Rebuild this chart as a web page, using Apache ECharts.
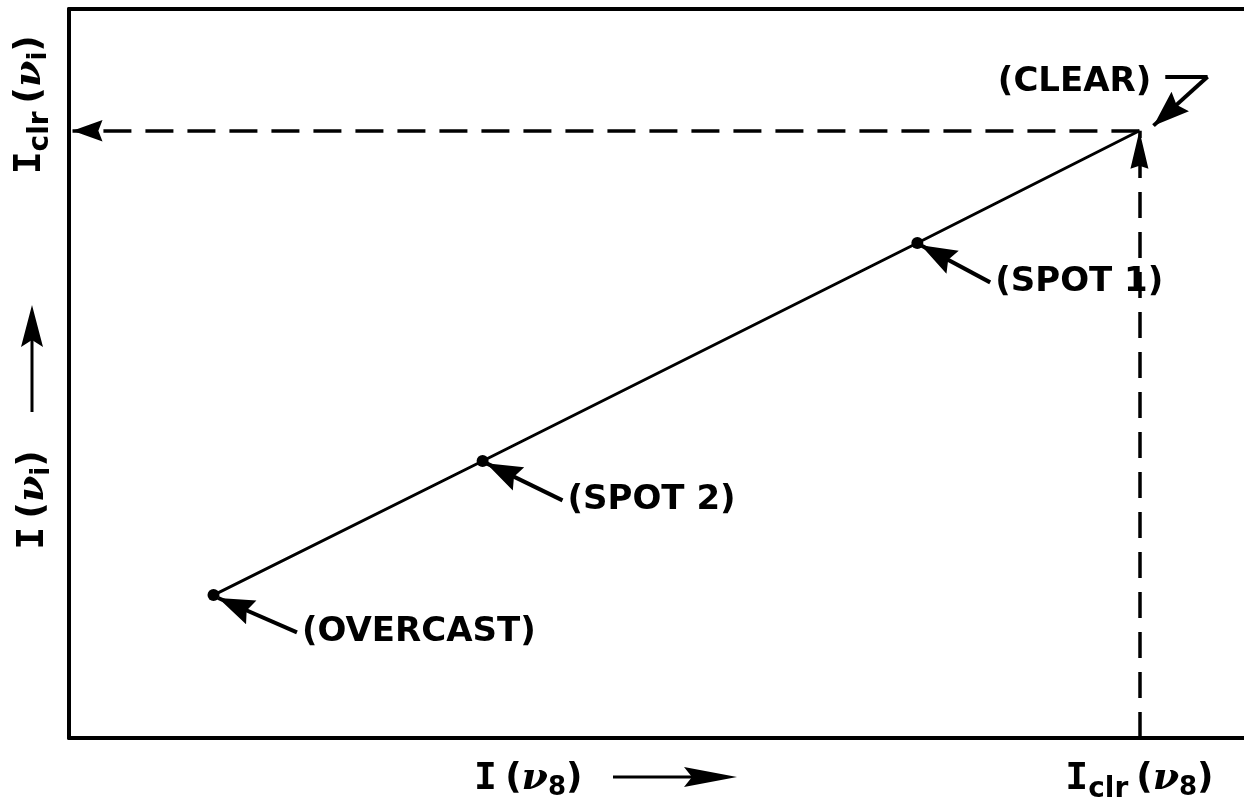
<!DOCTYPE html>
<html>
<head>
<meta charset="utf-8">
<script src="https://cdn.jsdelivr.net/npm/echarts@6/dist/echarts.min.js"></script>
<style>
  html, body { margin: 0; padding: 0; background: #fff; }
  #chart { width: 1244px; height: 810px; }
</style>
</head>
<body>
<div id="chart"></div>
<script>
// 状态点:I(ν8) 横轴, I(νi) 纵轴(任意单位 0..100)
var stateNames = ['OVERCAST', 'SPOT 2', 'SPOT 1', 'CLEAR'];
var i8Values = [12.3, 35.2, 72.2, 91.1];
var iiValues = [19.6, 38.0, 67.9, 83.3];

// 注释箭头:尾部(文字处) -> 头部(点旁)
var noteTailX = [19.4, 42.0, 78.4];
var noteTailY = [14.5, 32.6, 62.5];
var noteTipX = [12.7, 35.5, 72.5];
var noteTipY = [19.2, 37.7, 67.6];
// (CLEAR) 的折线箭头
var clearArrowX = [93.3, 96.9, 92.3];
var clearArrowY = [90.7, 90.7, 84.0];

var xTickValues = [91.1];
var yTickValues = [83.3];

(function () {
  'use strict';
  var chart = echarts.init(document.getElementById('chart'));
  var INK = '#000';

  // 尖端在包围盒中心,便于箭头恰好落在端点
  var headSmall = 'path://M0,18 L13,54 L0,49 L-13,54 Z M-36,-18 M36,54';
  var headTall = 'path://M0,19 L9,57 L0,54 L-9,57 Z M-38,-19 M38,57';

  var clr = xTickValues[0], cly = yTickValues[0];

  var subRich = {
    I: { fontFamily: 'DejaVu Sans Mono', fontWeight: 'bold', fontSize: 38, color: INK },
    sp: { fontFamily: 'DejaVu Sans', fontSize: 26, color: INK },
    s: { fontFamily: 'DejaVu Sans', fontWeight: 'bold', fontSize: 28, color: INK, padding: [22, 2, 0, 0] },
    p: { fontFamily: 'DejaVu Sans', fontWeight: 'bold', fontSize: 36, color: INK, padding: [0, 0, 0, 6] },
    q: { fontFamily: 'DejaVu Sans', fontWeight: 'bold', fontSize: 36, color: INK },
    nu: { fontFamily: 'DejaVu Serif', fontStyle: 'italic', fontWeight: 'bold', fontSize: 38, color: INK },
    n: { fontFamily: 'DejaVu Sans', fontWeight: 'bold', fontSize: 26, color: INK, padding: [18, 0, 0, 0] }
  };

  var notes = stateNames.slice(0, 3).map(function (n, k) {
    return { name: '(' + n + ')', value: [noteTailX[k], noteTailY[k]] };
  });
  notes.push({ name: '(CLEAR)', value: [clearArrowX[0], clearArrowY[0]],
               label: { position: 'left', distance: 14, offset: [0, 5] } });

  var arrows = notes.slice(0, 3).map(function (d, k) {
    return { coords: [[noteTailX[k], noteTailY[k]], [noteTipX[k], noteTipY[k]]] };
  });
  arrows.push({ coords: [[clearArrowX[1], clearArrowY[1]], [clearArrowX[2], clearArrowY[2]]] });

  var option = {
    animation: false,
    backgroundColor: '#fff',
    grid: { left: 69, top: 9, right: 0, bottom: 72 },
    xAxis: [{
      type: 'value', min: 0, max: 100,
      axisLine: { show: true, lineStyle: { color: INK, width: 4 } },
      axisTick: { show: false },
      splitLine: { show: false },
      axisLabel: {
        customValues: xTickValues, margin: 16, rich: subRich,
        formatter: function () { return '{I|I}{s|clr}{p|(}{nu|ν}{n|8}{q|)}'; }
      }
    }, {
      type: 'value', min: 0, max: 100, position: 'top',
      axisLine: { show: true, lineStyle: { color: INK, width: 4 } },
      axisTick: { show: false }, axisLabel: { show: false }, splitLine: { show: false }
    }],
    yAxis: {
      type: 'value', min: 0, max: 100,
      axisLine: { show: true, lineStyle: { color: INK, width: 4 } },
      axisTick: { show: false },
      splitLine: { show: false },
      axisLabel: {
        customValues: yTickValues, rotate: 90, margin: 14, rich: subRich,
        padding: [0, 0, 0, 52],
        formatter: function () { return '{I|I}{s|clr}{p|(}{nu|ν}{n|i}{q|)}'; }
      }
    },
    series: [{
      // 虚线:I_clr 投影到两轴
      type: 'lines', coordinateSystem: 'cartesian2d', z: 3,
      symbol: ['none', headTall], symbolSize: [0, 76],
      lineStyle: { color: INK, width: 3.5, type: [26, 14], opacity: 1 },
      data: [{ coords: [[clr, 0], [clr, cly]] }]
    }, {
      type: 'lines', coordinateSystem: 'cartesian2d', z: 3,
      symbol: ['none', headSmall], symbolSize: [0, 60],
      lineStyle: { color: INK, width: 3.5, type: [28, 14], opacity: 1 },
      data: [{ coords: [[clr, cly], [0.3, cly]] }]
    }, {
      type: 'line', z: 4,
      data: i8Values.map(function (x, k) {
        return { value: [x, iiValues[k]], symbolSize: k === 3 ? 0 : 12 };
      }),
      symbol: 'circle', showSymbol: true,
      itemStyle: { color: INK, opacity: 1 },
      lineStyle: { color: INK, width: 3 }
    }, {
      // 注释箭头
      type: 'lines', coordinateSystem: 'cartesian2d', z: 5,
      symbol: ['none', headSmall], symbolSize: [0, 72],
      lineStyle: { color: INK, width: 4, opacity: 1 },
      data: arrows
    }, {
      type: 'lines', coordinateSystem: 'cartesian2d', z: 5,
      symbol: ['none', 'none'],
      lineStyle: { color: INK, width: 4, opacity: 1 },
      data: [{ coords: [[clearArrowX[0], clearArrowY[0]], [clearArrowX[1], clearArrowY[1]]] }]
    }, {
      type: 'scatter', z: 6, symbolSize: 0,
      itemStyle: { opacity: 1 },
      data: notes,
      label: {
        show: true, position: 'right', distance: 5, color: INK, opacity: 1,
        fontFamily: 'DejaVu Sans', fontWeight: 'bold', fontSize: 34,
        formatter: function (p) { return p.name; }
      }
    }],
    graphic: [{
      type: 'text', x: 474, y: 779,
      style: {
        text: '{I|I}{sp| }{q|(}{nu|ν}{n|8}{q|)}', rich: subRich,
        align: 'left', verticalAlign: 'middle'
      }
    }, {
      type: 'line', shape: { x1: 613, y1: 777, x2: 695, y2: 777 },
      style: { stroke: INK, lineWidth: 3 }
    }, {
      type: 'polygon', shape: { points: [[737, 777], [684, 767], [692, 777], [684, 787]] },
      style: { fill: INK }
    }, {
      type: 'text', x: 33, y: 500, rotation: Math.PI / 2,
      style: {
        text: '{I|I}{sp| }{q|(}{nu|ν}{n|i}{q|)}', rich: subRich,
        align: 'center', verticalAlign: 'middle'
      }
    }, {
      type: 'line', shape: { x1: 32, y1: 412, x2: 32, y2: 335 },
      style: { stroke: INK, lineWidth: 3 }
    }, {
      type: 'polygon', shape: { points: [[32, 305], [21, 347], [32, 340], [43, 347]] },
      style: { fill: INK }
    }]
  };

  chart.setOption(option);
  window.addEventListener('resize', function () { chart.resize(); });
})();
</script>
</body>
</html>
